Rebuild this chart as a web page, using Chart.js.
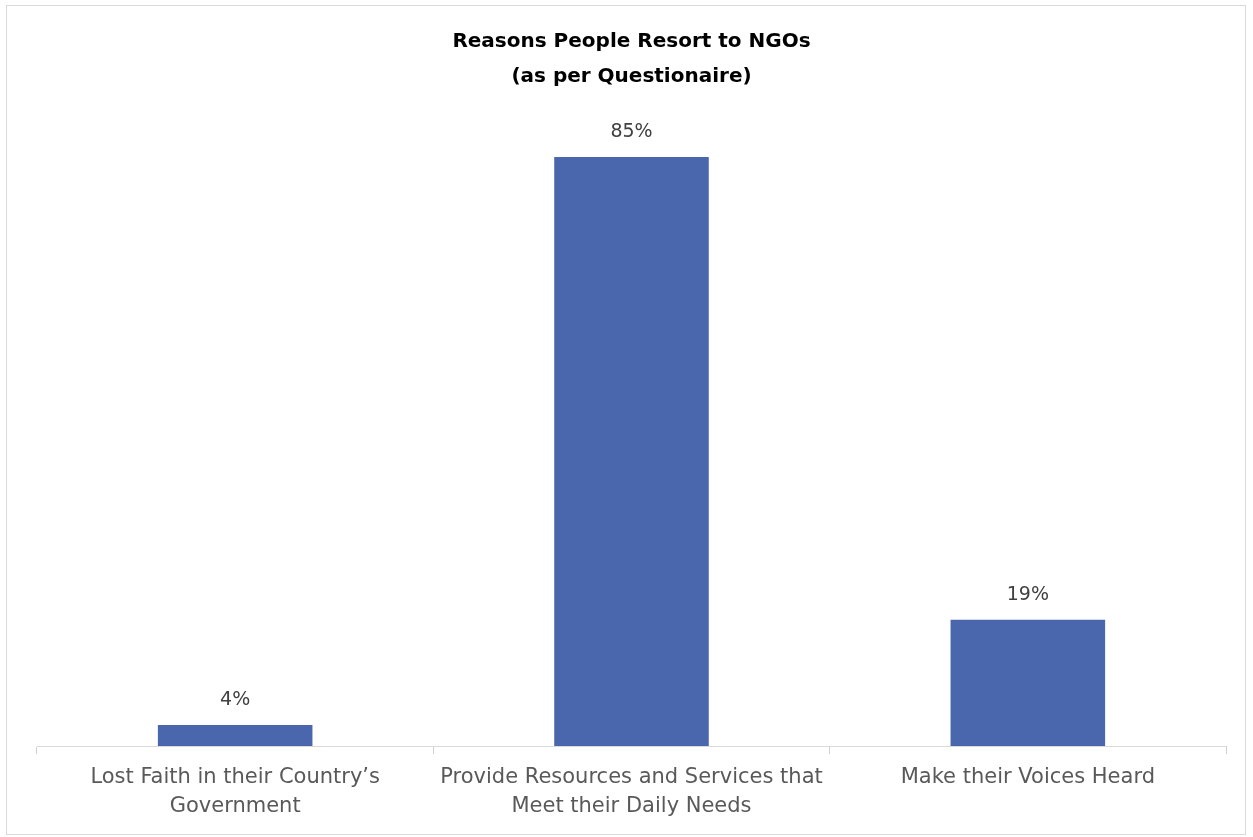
<!DOCTYPE html>
<html>
<head>
<meta charset="utf-8">
<script src="https://cdn.jsdelivr.net/npm/chart.js@4/dist/chart.umd.min.js"></script>
<style>
  html, body { margin: 0; padding: 0; background: #fff; }
  #frame { position: absolute; left: 6px; top: 5px; width: 1240px; height: 830px; border: 1px solid #d9d9d9; box-sizing: border-box; }
  #wrap { position: absolute; left: 0; top: 0; width: 1253px; height: 837px; }
</style>
</head>
<body>
<div id="frame"></div>
<div id="wrap"><canvas id="chart"></canvas></div>
<script>
'use strict';

var categories = [
    ['Lost Faith in their Country\u2019s', 'Government'],
    ['Provide Resources and Services that', 'Meet their Daily Needs'],
    'Make their Voices Heard'
];
var values = [4, 85, 19];
var titleLines = ['Reasons People Resort to NGOs', '(as per Questionaire)'];

var FONT = '"DejaVu Sans", sans-serif';

var valueLabels = {
    id: 'valueLabels',
    afterDatasetsDraw: function(chart) {
        var ctx = chart.ctx;
        var meta = chart.getDatasetMeta(0);
        ctx.save();
        ctx.font = '19px ' + FONT;
        ctx.fillStyle = '#404040';
        ctx.textAlign = 'center';
        ctx.textBaseline = 'bottom';
        meta.data.forEach(function(bar, i) {
            ctx.fillText(values[i] + '%', bar.x, bar.y - 15);
        });
        ctx.restore();
    }
};

var ctx = document.getElementById('chart').getContext('2d');
new Chart(ctx, {
    type: 'bar',
    data: {
        labels: categories,
        datasets: [{
            data: values,
            backgroundColor: '#4A66AC',
            borderWidth: 0,
            barPercentage: 0.39,
            categoryPercentage: 1
        }]
    },
    options: {
        responsive: true,
        maintainAspectRatio: false,
        animation: false,
        layout: { padding: { left: 37, right: 27, top: 0, bottom: 7 } },
        plugins: {
            legend: { display: false },
            tooltip: { enabled: false },
            title: {
                display: true,
                text: titleLines,
                color: '#000',
                font: { family: FONT, size: 20, weight: 'bold', lineHeight: 1.75 },
                padding: { top: 24, bottom: 28 }
            }
        },
        scales: {
            x: {
                grid: { display: true, drawOnChartArea: false, color: '#d0d0d0', tickLength: 8 },
                border: { color: '#d9d9d9', width: 1 },
                ticks: {
                    color: '#595959',
                    padding: 9,
                    maxRotation: 0,
                    autoSkip: false,
                    font: { family: FONT, size: 21, lineHeight: 1.38 }
                }
            },
            y: {
                display: false,
                min: 1,
                max: 90
            }
        }
    },
    plugins: [valueLabels]
});
</script>
</body>
</html>
